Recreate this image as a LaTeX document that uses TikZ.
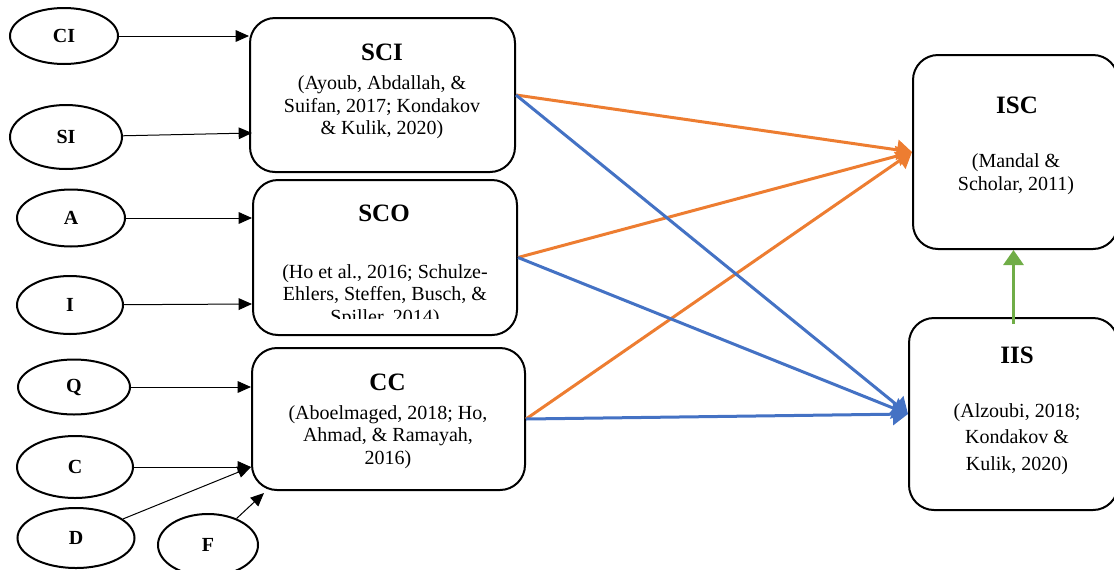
\documentclass[tikz,border=0pt]{standalone}
\usepackage{fontspec}
\setmainfont{Liberation Serif}
\usetikzlibrary{shapes.geometric,arrows.meta,calc}

\definecolor{linkorange}{HTML}{ED7D31}
\definecolor{linkblue}{HTML}{4472C4}
\definecolor{linkgreen}{HTML}{70AD47}

\begin{document}
\begin{tikzpicture}
[x = 0.6pt, y = -0.6pt,
 factor/.style = {draw = black, line width = 1.2pt, ellipse, inner sep = 0pt, font = \bfseries\fontsize{12}{14}\selectfont},
 construct/.style = {draw = black, line width = 1.2pt, rectangle, rounded corners = 15pt, inner sep = 0pt},
 title/.style = {inner sep = 0pt, font = \bfseries\fontsize{15}{18}\selectfont},
 cite/.style = {align = center, inner sep = 0pt, font = \fontsize{12}{13.5}\selectfont},
 feed/.style = {draw = black, line width = 0.6pt, -{Triangle[length = 8pt, width = 7pt]}},
 toisc/.style = {draw = linkorange, line width = 1.8pt, -{Triangle[length = 9pt, width = 12pt]}},
 toiis/.style = {draw = linkblue, line width = 1.8pt, -{Triangle[length = 9pt, width = 13pt]}},
 link/.style = {draw = linkgreen, line width = 1.8pt, -{Triangle[length = 9pt, width = 12pt]}}
 ]
\useasboundingbox (0,0) rectangle (1114,569);
% constructs
\node [construct, minimum width = 159pt, minimum height = 92.4pt] (sci) at (382.5,95) {};
\node [construct, minimum width = 158.4pt, minimum height = 93pt] (sco) at (385,257.5) {};
\node [construct, minimum width = 163.8pt, minimum height = 85.2pt] (cc) at (388.5,419) {};
\node [construct, minimum width = 123pt, minimum height = 116.4pt] (isc) at (1015.5,152) {};
\node [construct, minimum width = 125.4pt, minimum height = 115.2pt] (iis) at (1013.5,414) {};
\node [title] (scititle) at (382,52) {SCI};
\node [cite] (scicite) at (382,107.5) {(Ayoub, Abdallah, \&\\Suifan, 2017; Kondakov\\\& Kulik, 2020)};
\node [title] (scotitle) at (384,213) {SCO};
\begin{scope}
\clip (253,180) rectangle (517,318);
\node [cite] (scocite) at (385,296) {(Ho et al., 2016; Schulze-\\Ehlers, Steffen, Busch, \&\\Spiller, 2014)};
\end{scope}
\node [title] (cctitle) at (387.5,382) {CC};
\node [cite] (cccite) at (388,437) {(Aboelmaged, 2018; Ho,\\Ahmad, \& Ramayah,\\2016)};
\node [title] (isctitle) at (1017,105) {ISC};
\node [cite] (isccite) at (1016,174) {(Mandal \&\\Scholar, 2011)};
\node [title] (iistitle) at (1017,355) {IIS};
\node [cite, font = \fontsize{12}{16}\selectfont] (iiscite) at (1017,439) {(Alzoubi, 2018;\\Kondakov \&\\Kulik, 2020)};
% factors
\node [factor, minimum width = 64.8pt, minimum height = 33.6pt] (ci) at (64,36) {CI};
\node [factor, minimum width = 67.2pt, minimum height = 38.4pt] (si) at (66,137) {SI};
\node [factor, minimum width = 64.8pt, minimum height = 34.2pt] (a) at (71,218) {A};
\node [factor, minimum width = 63.6pt, minimum height = 34.8pt] (i) at (70,305) {I};
\node [factor, minimum width = 67.2pt, minimum height = 33pt] (q) at (74,387) {Q};
\node [factor, minimum width = 69.6pt, minimum height = 37.2pt] (c) at (75,467) {C};
\node [factor, minimum width = 70.2pt, minimum height = 36pt] (d) at (76,538) {D};
\node [factor, minimum width = 60pt, minimum height = 37.2pt] (f) at (208,545) {F};
% black arrows
\draw [feed] (ci) -- (ci -| sci.west);
\draw [feed] (si) -- ($(sci.west)+(3,38)$);
\draw [feed] (a) -- (a -| sco.west);
\draw [feed] (i) -- ($(sco.west)+(0,46.5)$);
\draw [feed] (q) -- (q -| cc.west);
\draw [feed] (c) -- (c -| cc.west);
\draw [feed] (d) -- (c -| cc.west);
\draw [feed] (f) -- ($(cc.south west)+(13,2)$);
% coloured arrows
\draw [toisc] (sci.east) -- (isc.west);
\draw [toisc] (sco.east) -- (isc.west);
\draw [toisc] (cc.east) -- (isc.west);
\draw [toiis] (sci.east) -- (iis.west);
\draw [toiis] (sco.east) -- (iis.west);
\draw [toiis] (cc.east) -- (iis.west);
\draw [link] ($(iis.north)+(0,7)$) -- (iis.north |- isc.south);
\end{tikzpicture}
\end{document}
